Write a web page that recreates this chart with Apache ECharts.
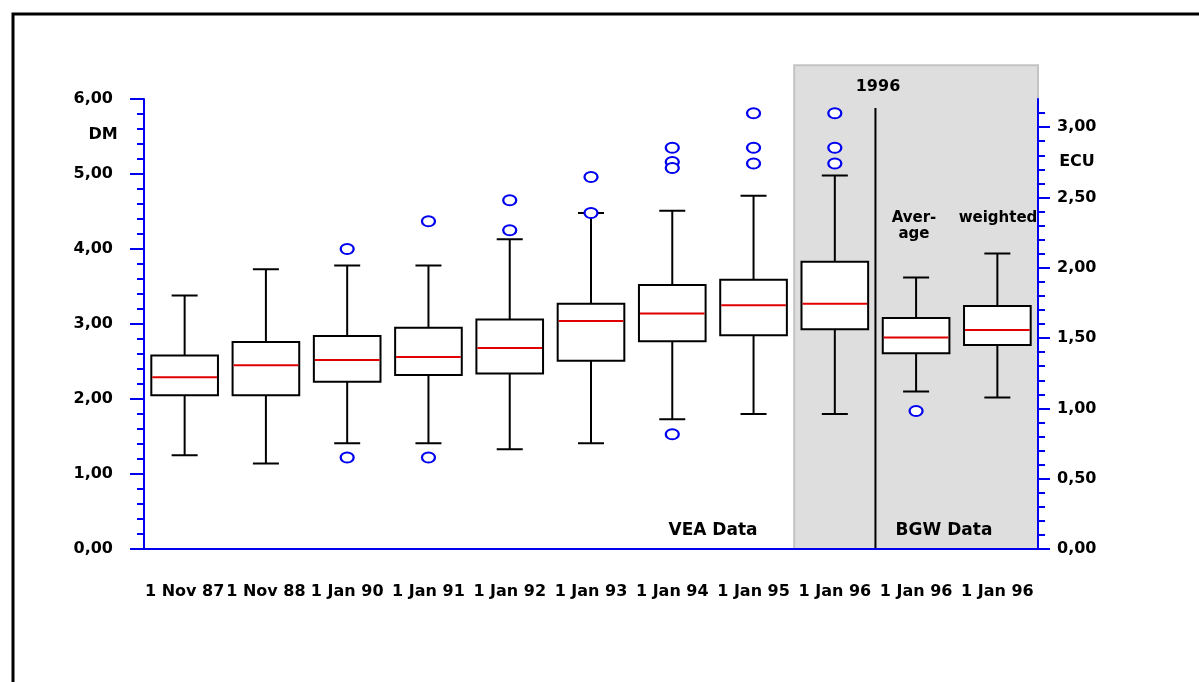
<!DOCTYPE html>
<html>
<head>
<meta charset="utf-8">
<script src="https://cdn.jsdelivr.net/npm/echarts@6/dist/echarts.min.js"></script>
<style>
  html, body { margin: 0; padding: 0; background: #fff; }
  #chart { width: 1199px; height: 682px; }
</style>
</head>
<body>
<div id="chart"></div>
<script>
// categories on the x axis
const categories = ['1 Nov 87', '1 Nov 88', '1 Jan 90', '1 Jan 91', '1 Jan 92', '1 Jan 93',
  '1 Jan 94', '1 Jan 95', '1 Jan 96', '1 Jan 96', '1 Jan 96']

// box statistics in DM
const lows    = [1.25, 1.14, 1.41, 1.41, 1.33, 1.41, 1.73, 1.80, 1.80, 2.10, 2.02]
const q1s     = [2.05, 2.05, 2.23, 2.32, 2.34, 2.51, 2.77, 2.85, 2.93, 2.61, 2.72]
const medians = [2.29, 2.45, 2.52, 2.56, 2.68, 3.04, 3.14, 3.25, 3.27, 2.82, 2.92]
const q3s     = [2.58, 2.76, 2.84, 2.95, 3.06, 3.27, 3.52, 3.59, 3.83, 3.08, 3.24]
const highs   = [3.38, 3.73, 3.78, 3.78, 4.13, 4.48, 4.51, 4.71, 4.98, 3.62, 3.94]

// outliers: [category index, DM]
const outliers = [
  [2, 4.00], [2, 1.22], [3, 4.37], [3, 1.22], [4, 4.65], [4, 4.25],
  [5, 4.96], [5, 4.48], [6, 5.35], [6, 5.16], [6, 5.08], [6, 1.53],
  [7, 5.81], [7, 5.35], [7, 5.14], [8, 5.81], [8, 5.35], [8, 5.14], [9, 1.84]
]

// axes
const dmMax = 6
const ecuMax = 3.2
const ecuTicks = [0, 0.5, 1, 1.5, 2, 2.5, 3]
const ecuMinorTicks = [0.1, 0.2, 0.3, 0.4, 0.6, 0.7, 0.8, 0.9, 1.1, 1.2, 1.3, 1.4, 1.6, 1.7, 1.8, 1.9,
  2.1, 2.2, 2.3, 2.4, 2.6, 2.7, 2.8, 2.9, 3.1]

// shaded 1996 block (category indexes) and divider
const shadeFrom = 8
const shadeTo = 10
const shadeTop = 6.45
const dividerAfter = 8
const dividerTop = 5.88

const BLUE = '#0000f0'
const FONT = 'DejaVu Sans'
const fmt = v => v.toFixed(2).replace('.', ',')

const boxData = categories.map((c, i) => [i, lows[i], q1s[i], medians[i], q3s[i], highs[i]])

const chart = echarts.init(document.getElementById('chart'))

function renderBox(params, api) {
  const i = api.value(0)
  const lo = api.coord([i, api.value(1)])
  const q1 = api.coord([i, api.value(2)])
  const md = api.coord([i, api.value(3)])
  const q3 = api.coord([i, api.value(4)])
  const hi = api.coord([i, api.value(5)])
  const band = api.size([1, 0])[0]
  const bw = band * 0.82 / 2
  const cw = band * 0.16
  const cx = lo[0]
  const line = { stroke: '#000', lineWidth: 2 }
  return {
    type: 'group',
    children: [
      { type: 'line', shape: { x1: cx, y1: hi[1], x2: cx, y2: q3[1] }, style: line },
      { type: 'line', shape: { x1: cx, y1: q1[1], x2: cx, y2: lo[1] }, style: line },
      { type: 'line', shape: { x1: cx - cw, y1: hi[1], x2: cx + cw, y2: hi[1] }, style: line },
      { type: 'line', shape: { x1: cx - cw, y1: lo[1], x2: cx + cw, y2: lo[1] }, style: line },
      { type: 'rect', shape: { x: cx - bw, y: q3[1], width: bw * 2, height: q1[1] - q3[1] },
        style: { fill: '#fff', stroke: '#000', lineWidth: 2 } },
      { type: 'line', shape: { x1: cx - bw + 1, y1: md[1], x2: cx + bw - 1, y2: md[1] },
        style: { stroke: '#e00000', lineWidth: 2 } }
    ]
  }
}

function renderShade(params, api) {
  const band = api.size([1, 0])[0]
  const a = api.coord([api.value(0), 0])
  const b = api.coord([api.value(1), api.value(2)])
  const x0 = a[0] - band / 2
  const x1 = b[0] + band / 2
  return {
    type: 'rect',
    shape: { x: x0, y: b[1], width: x1 - x0, height: a[1] - b[1] },
    style: { fill: '#dedede', stroke: '#c4c4c4', lineWidth: 2 }
  }
}

function renderDivider(params, api) {
  const band = api.size([1, 0])[0]
  const a = api.coord([api.value(0), 0])
  const b = api.coord([api.value(0), api.value(1)])
  const x = a[0] + band / 2
  return {
    type: 'line',
    shape: { x1: x, y1: a[1], x2: x, y2: b[1] },
    style: { stroke: '#000', lineWidth: 2 }
  }
}

const txt = { fontFamily: FONT, fontWeight: 'bold', fill: '#000' }
const label = (text, x, y, size, extra) => ({
  type: 'text', x, y, z: 100,
  style: { ...txt, text, fontSize: size, align: 'center', verticalAlign: 'middle', ...extra }
})

chart.setOption({
  animation: false,
  textStyle: { fontFamily: FONT },
  grid: { left: 144, right: 161, top: 99, bottom: 133 },
  xAxis: {
    type: 'category',
    data: categories,
    z: 10,
    axisLine: { lineStyle: { color: BLUE, width: 2 } },
    axisTick: { length: 12, lineStyle: { color: BLUE, width: 2 } },
    axisLabel: { interval: 0, color: '#000', fontWeight: 'bold', fontSize: 16, margin: 35 },
    splitLine: { show: false }
  },
  yAxis: [
    {
      type: 'value', min: 0, max: dmMax, interval: 1, z: 10,
      axisLine: { show: true, lineStyle: { color: BLUE, width: 2 } },
      axisTick: { show: true, length: 14, lineStyle: { color: BLUE, width: 2 } },
      minorTick: { show: true, splitNumber: 5, length: 7, lineStyle: { color: BLUE, width: 2 } },
      axisLabel: { color: '#000', fontWeight: 'bold', fontSize: 16, margin: 31, formatter: fmt },
      splitLine: { show: false }
    },
    {
      type: 'value', position: 'right', min: 0, max: ecuMax, z: 10,
      axisLine: { show: true, lineStyle: { color: BLUE, width: 2 } },
      axisTick: { show: true, length: 12, customValues: ecuTicks, lineStyle: { color: BLUE, width: 2 } },
      axisLabel: { color: '#000', fontWeight: 'bold', fontSize: 16, margin: 19,
        customValues: ecuTicks, formatter: fmt },
      splitLine: { show: false }
    },
    {
      type: 'value', position: 'right', min: 0, max: ecuMax, z: 10,
      axisLine: { show: false },
      axisTick: { show: true, length: 7, customValues: ecuMinorTicks, lineStyle: { color: BLUE, width: 2 } },
      axisLabel: { show: false },
      splitLine: { show: false }
    }
  ],
  series: [
    {
      type: 'custom', z: 0, clip: false,
      renderItem: renderShade,
      encode: { x: 0, y: 2 },
      data: [[shadeFrom, shadeTo, shadeTop]]
    },
    {
      type: 'custom', z: 1, clip: false,
      renderItem: renderDivider,
      encode: { x: 0, y: 1 },
      data: [[dividerAfter, dividerTop]]
    },
    {
      type: 'custom', z: 3,
      renderItem: renderBox,
      encode: { x: 0, y: [1, 2, 3, 4, 5] },
      data: boxData
    },
    {
      type: 'scatter', z: 4,
      symbol: 'circle',
      symbolSize: [13, 10],
      itemStyle: { color: '#fff', borderColor: BLUE, borderWidth: 2, opacity: 1 },
      data: outliers
    }
  ],
  graphic: [
    { type: 'rect', shape: { x: 13, y: 14, width: 1300, height: 800 },
      style: { fill: 'none', stroke: '#000', lineWidth: 3 }, silent: true },
    label('DM', 103, 135, 16),
    label('ECU', 1077, 162, 16),
    label('1996', 878, 87, 16),
    label('Aver-\nage', 914, 226, 15, { lineHeight: 16 }),
    label('weighted', 998, 218, 15),
    label('VEA Data', 713, 531, 17),
    label('BGW Data', 944, 531, 17)
  ]
})
</script>
</body>
</html>
